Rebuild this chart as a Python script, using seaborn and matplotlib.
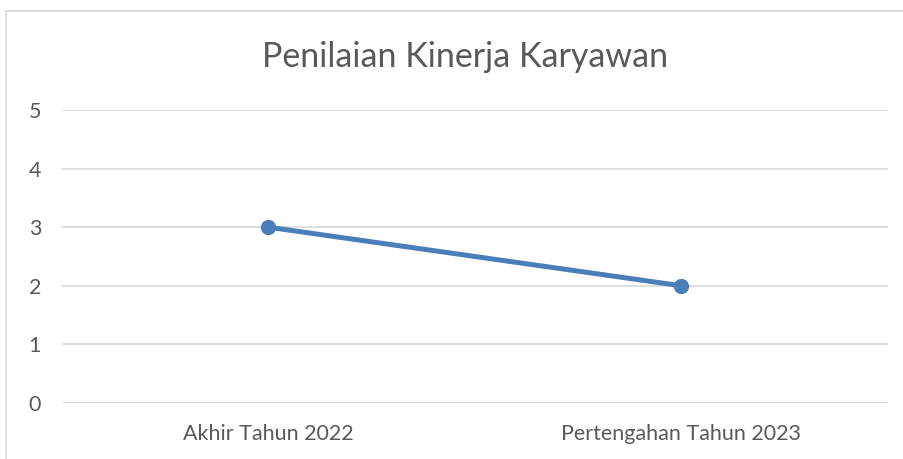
import matplotlib.pyplot as plt
import seaborn as sns
import pandas as pd
from matplotlib.patches import Rectangle

periods = ['Akhir Tahun 2022', 'Pertengahan Tahun 2023']
scores = [3, 2]

df = pd.DataFrame({'periode': periods, 'nilai': scores})

sns.set_style('white')
plt.rcParams['font.family'] = ['Lato', 'DejaVu Sans']
text_color = '#595959'

fig = plt.figure(figsize=(9.04, 4.59), dpi=100)
ax = fig.add_axes([62 / 904, 1 - 403 / 459, 826 / 904, 293 / 459])

# outer chart border (left and top visible only)
fig.patches.append(Rectangle((6 / 904, -0.1), 1.2, 1 - 11 / 459 + 0.1,
                             transform=fig.transFigure, fill=False,
                             edgecolor='#d9d9d9', linewidth=1.2))

sns.lineplot(data=df, x='periode', y='nilai', ax=ax, color='#4a7ebb',
             linewidth=3.6, marker='o', markersize=11, markeredgewidth=0,
             sort=False, zorder=3)

ax.set_xlim(-0.5, 1.5)
ax.set_ylim(0, 5)
ax.set_yticks(range(0, 6))
ax.grid(axis='y', color='#d9d9d9', linewidth=1.2)
ax.grid(axis='x', visible=False)
for s in ax.spines.values():
    s.set_visible(False)
ax.set_xlabel('')
ax.set_ylabel('')
ax.tick_params(axis='both', length=0, labelsize=15.5, colors=text_color)
ax.tick_params(axis='y', pad=24)
ax.tick_params(axis='x', pad=15)
for lbl in ax.get_yticklabels():
    lbl.set_horizontalalignment('left')

fig.text(0.514, 1 - 57 / 459, 'Penilaian Kinerja Karyawan', ha='center',
         va='center', fontsize=24.5, color=text_color)

fig.savefig('out.png', dpi=100, facecolor='white')
